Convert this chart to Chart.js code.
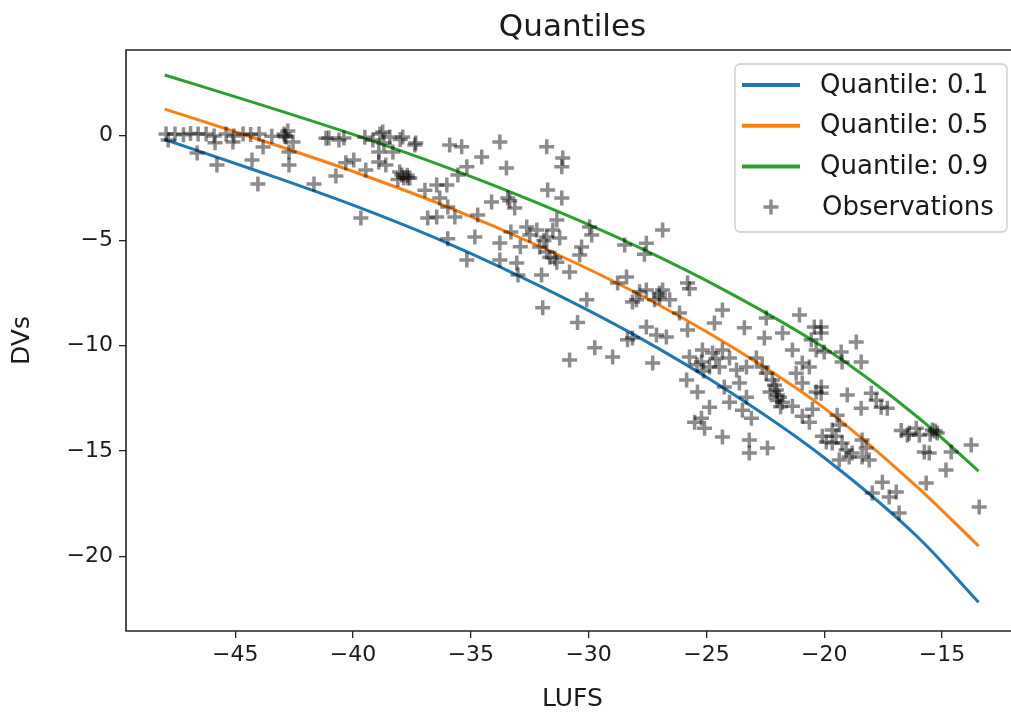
<!DOCTYPE html>
<html>
<head>
<meta charset="utf-8">
<script src="https://cdn.jsdelivr.net/npm/chart.js@4.4.1/dist/chart.umd.min.js"></script>
<style>
  html, body { margin: 0; padding: 0; background: #fff; overflow: hidden; }
  #wrap { width: 1011px; height: 714px; overflow: hidden; }
</style>
</head>
<body>
<div id="wrap"><canvas id="quantChart" width="1030" height="714"></canvas></div>
<script>
// fitted quantile curves, sampled along LUFS
var curveX = [-48, -44, -40, -36, -32, -28, -24, -20, -16, -13.45];
var q10 = [-0.2, -1.72, -3.32, -5.12, -7.2, -9.52, -12.2, -15.32, -19.12, -22.18];
var q50 = [1.24, -0.2, -1.72, -3.4, -5.32, -7.48, -10.0, -12.96, -16.76, -19.51];
var q90 = [2.86, 1.48, 0.04, -1.54, -3.3, -5.26, -7.5, -10.1, -13.42, -15.95];

// observations (LUFS, DVs)
var obsX = [
  -47.94, -47.56, -47.85, -46.58, -46.24, -45.9, -45.86, -46.62, -45.78, -45.39,
  -45.06, -44.67, -45.1, -44.29, -43.99, -43.82, -44.04, -42.93, -42.85, -42.77,
  -42.55, -42.72, -42.72, -41.66, -41.03, -40.39, -40.73, -40.31, -39.97, -39.67,
  -39.46, -39.16, -38.86, -38.74, -38.69, -38.91, -38.31, -38.91, -38.61, -37.93,
  -37.85, -37.68, -37.89, -37.34, -38.02, -38.44, -42.9,
  -47.2, -46.9, -44.35, -43.45, -41.15, -40.6, -39.5, -38.0, -38.1, -37.7,
  -37.38, -37.59, -35.9, -35.39, -34.54, -33.77, -33.49, -35.17, -35.55, -36.02,
  -31.78, -31.1, -31.14, -31.74, -31.14, -36.32, -36.83, -36.45, -35.98, -35.68,
  -34.71, -34.12, -33.43, -33.14, -35.98, -34.83, -33.77, -35.17, -33.77, -33.05,
  -33.0, -32.63, -32.2, -32.5, -31.78, -31.52, -31.35, -32.08, -31.78, -31.65,
  -31.44, -31.35, -31.23, -32.0, -30.81, -30.38, -30.3, -29.96, -29.87, -28.47,
  -28.39, -28.77, -28.14, -30.08, -31.95, -30.47, -28.35, -29.74, -28.98, -30.81,
  -33.35, -36.95, -36.45, -33.3, -32.9, -31.9,
  -26.86, -27.55, -27.63, -25.8, -25.72, -27.55, -26.86, -26.56, -27.2, -26.99,
  -27.97, -27.84, -26.14, -27.55, -27.12, -26.7, -28.14, -24.32, -24.66, -25.8,
  -23.39, -22.46, -21.05, -20.42, -21.77, -22.54, -21.35, -20.55, -20.34, -27.28,
  -25.72, -25.17, -24.74, -24.32, -24.02, -24.45, -24.87, -25.21, -23.72, -23.3,
  -22.88, -22.63, -22.46, -22.2, -22.03, -21.9, -21.77, -21.99, -22.11, -25.84,
  -25.38, -24.87, -25.21, -25.5, -25.08, -24.32, -24.24, -23.6, -23.3, -24.02,
  -23.47, -23.09, -23.18, -23.18, -22.41, -20.93, -20.63, -21.19, -20.93, -20.34,
  -20.12, -21.35, -20.93, -20.5, -20.63, -20.08, -25.12,
  -27.0, -22.0, -21.85, -22.3, -25.4, -24.6,
  -20.13, -20.13, -18.64, -20.0, -19.28, -19.24, -18.43, -20.13, -19.02, -18.0,
  -17.79, -17.58, -17.32, -18.43, -19.45, -16.73, -16.39, -16.09, -15.96, -16.47,
  -15.41, -15.2, -19.91, -19.66, -19.24, -19.07, -18.81, -18.39, -18.22, -19.36,
  -18.94, -18.39, -18.09, -19.66, -19.36, -15.75, -15.54, -14.61, -13.76, -14.83,
  -15.67, -17.53, -17.96, -17.24, -16.94, -16.82, -13.42, -15.29, -19.5, -15.5
];
var obsY = [
  0.06, 0.06, -0.22, 0.06, 0.06, -0.03, -0.36, -0.84, -1.41, 0.06,
  -0.03, 0.06, -0.32, -1.17, 0.06, -0.56, -2.31, 0.06, -0.08, 0.2,
  -0.32, -0.79, -1.41, -2.31, -0.13, -0.13, -1.93, -1.31, -1.17, -3.93,
  -1.65, -0.22, 0.06, 0.16, -0.37, -0.79, -0.79, -1.27, -1.41, -1.89,
  -2.03, -2.03, -0.08, -0.37, -1.74, -0.08, -0.03,
  0.02, 0.08, 0.04, -0.05, -0.14, -0.22, -0.1, -0.2, -2.1, -1.9,
  -0.46, -2.03, -0.46, -0.55, -1.03, -0.32, -1.55, -1.5, -1.89, -2.36,
  -0.55, -1.08, -1.5, -2.6, -2.98, -2.98, -3.93, -3.88, -3.41, -3.88,
  -3.79, -3.17, -2.98, -3.46, -4.92, -4.83, -5.12, -5.92, -5.92, -6.07,
  -6.64, -4.36, -4.5, -4.74, -4.83, -4.5, -4.02, -5.31, -5.55, -5.79,
  -5.84, -6.03, -4.88, -6.64, -6.5, -5.69, -5.31, -4.36, -4.74, -5.21,
  -6.73, -7.02, -7.92, -7.82, -8.2, -8.9, -9.71, -10.1, -10.53, -10.68,
  -3.11, -2.61, -2.36, -4.6, -5.3, -5.0,
  -4.5, -5.13, -5.65, -7.02, -7.29, -7.35, -7.35, -7.82, -7.82, -7.68,
  -7.82, -7.44, -8.44, -9.11, -9.49, -9.58, -9.63, -8.3, -8.92, -9.25,
  -9.15, -8.68, -8.54, -9.11, -9.39, -9.63, -10.2, -9.72, -10.2, -10.82,
  -10.53, -10.2, -10.34, -10.2, -10.58, -11.01, -11.01, -10.77, -11.15, -11.01,
  -10.58, -11.01, -11.3, -11.63, -12.1, -12.44, -12.68, -12.34, -11.87, -11.63,
  -12.2, -12.92, -13.44, -13.63, -13.92, -14.34, -11.96, -11.77, -12.44, -12.68,
  -13.06, -13.44, -14.48, -15.09, -14.86, -10.82, -11.01, -11.3, -11.77, -12.2,
  -11.96, -12.87, -13.35, -13.01, -13.63, -14.3, -11.2,
  -7.5, -12.6, -12.9, -12.2, -10.9, -10.6,
  -9.11, -9.39, -9.82, -10.3, -10.3, -10.77, -10.77, -12.25, -12.34, -12.25,
  -12.59, -12.92, -12.97, -12.97, -13.3, -14.02, -14.16, -13.92, -14.25, -14.24,
  -14.0, -14.14, -14.57, -14.62, -14.62, -14.95, -15.09, -14.48, -14.86, -15.43,
  -15.28, -15.28, -15.43, -14.0, -13.76, -15.05, -15.09, -15.05, -14.71, -15.9,
  -16.52, -16.48, -16.99, -17.18, -16.95, -17.94, -17.66, -14.05, -14.3, -14.2
];

var FONT = 'DejaVu Sans';
var TXT = '#1a1a1a';

function pts(xs, ys) {
  return xs.map(function (x, i) { return { x: x, y: ys[i] }; });
}

function minusLabel(v) {
  return v < 0 ? '\u2212' + Math.abs(v) : String(v);
}

function fives(scale) {
  scale.ticks = scale.ticks.filter(function (t) { return Math.abs(t.value % 5) < 1e-9; });
}

// axes frame: left, bottom and top spines (right one falls past the edge)
var framePlugin = {
  id: 'frame',
  afterDraw: function (chart) {
    var a = chart.chartArea, ctx = chart.ctx;
    ctx.save();
    ctx.strokeStyle = '#222';
    ctx.lineWidth = 1.6;
    ctx.beginPath();
    ctx.moveTo(a.right, a.top);
    ctx.lineTo(a.left, a.top);
    ctx.lineTo(a.left, a.bottom);
    ctx.lineTo(a.right, a.bottom);
    ctx.stroke();
    ctx.restore();
  }
};

// legend box in the upper right corner of the axes
var boxLegend = {
  id: 'boxLegend',
  afterDraw: function (chart) {
    var ctx = chart.ctx;
    var left = 735, top = 64, w = 272, h = 168, r = 5;
    ctx.save();
    ctx.beginPath();
    ctx.moveTo(left + r, top);
    ctx.arcTo(left + w, top, left + w, top + h, r);
    ctx.arcTo(left + w, top + h, left, top + h, r);
    ctx.arcTo(left, top + h, left, top, r);
    ctx.arcTo(left, top, left + w, top, r);
    ctx.closePath();
    ctx.fillStyle = 'rgba(255,255,255,0.8)';
    ctx.fill();
    ctx.strokeStyle = '#cccccc';
    ctx.lineWidth = 1.3;
    ctx.stroke();

    ctx.font = '26px "' + FONT + '"';
    ctx.textBaseline = 'middle';
    chart.data.datasets.forEach(function (ds, i) {
      var y = top + 21 + i * 40.7;
      ctx.strokeStyle = ds.borderColor;
      ctx.beginPath();
      if (ds.type === 'scatter') {
        ctx.lineWidth = ds.borderWidth;
        ctx.moveTo(771 - 7.5, y); ctx.lineTo(771 + 7.5, y);
        ctx.moveTo(771, y - 7.5); ctx.lineTo(771, y + 7.5);
      } else {
        ctx.lineWidth = 4;
        ctx.moveTo(742, y); ctx.lineTo(800, y);
      }
      ctx.stroke();
      ctx.fillStyle = TXT;
      ctx.fillText(ds.label, ds.type === 'scatter' ? 822 : 820, y + 1);
    });
    ctx.restore();
  }
};

function lineSet(label, ys, color) {
  return {
    type: 'line',
    label: label,
    data: pts(curveX, ys),
    borderColor: color,
    borderWidth: 3,
    pointRadius: 0,
    fill: false,
    cubicInterpolationMode: 'monotone',
    order: 1
  };
}

var chart = new Chart(document.getElementById('quantChart'), {
  data: {
    datasets: [
      lineSet('Quantile: 0.1', q10, '#1f77b4'),
      lineSet('Quantile: 0.5', q50, '#ff7f0e'),
      lineSet('Quantile: 0.9', q90, '#2ca02c'),
      {
        type: 'scatter',
        label: 'Observations',
        data: pts(obsX, obsY),
        pointStyle: 'cross',
        pointRadius: 7.5,
        borderWidth: 3.5,
        borderColor: 'rgba(0,0,0,0.45)',
        backgroundColor: 'rgba(0,0,0,0.45)',
        order: 0
      }
    ]
  },
  options: {
    responsive: false,
    animation: false,
    devicePixelRatio: 1,
    layout: { padding: { left: 0, right: 10, top: 0, bottom: 0 } },
    plugins: {
      legend: { display: false },
      tooltip: { enabled: false },
      title: {
        display: true,
        text: 'Quantiles',
        fullSize: false,
        color: TXT,
        font: { family: FONT, size: 31, weight: 'normal', lineHeight: 1.2 },
        padding: { top: 9.4, bottom: 3.4 }
      }
    },
    scales: {
      x: {
        type: 'linear',
        min: -49.64,
        max: -11.73,
        afterFit: function (s) { s.height = 83; },
        afterBuildTicks: fives,
        border: { display: false },
        grid: { drawOnChartArea: false, drawTicks: true, tickLength: 7, color: '#222', lineWidth: 1.3 },
        ticks: {
          stepSize: 5,
          includeBounds: false,
          maxRotation: 0,
          padding: 4,
          color: TXT,
          font: { family: FONT, size: 22 },
          callback: minusLabel
        },
        title: {
          display: true,
          text: 'LUFS',
          color: TXT,
          font: { family: FONT, size: 25, lineHeight: 1.2 },
          padding: { top: 0, bottom: 0 }
        }
      },
      y: {
        type: 'linear',
        min: -23.55,
        max: 4.05,
        afterFit: function (s) { s.width = 126; },
        afterBuildTicks: fives,
        border: { display: false },
        grid: { drawOnChartArea: false, drawTicks: true, tickLength: 7, color: '#222', lineWidth: 1.3 },
        ticks: {
          stepSize: 5,
          includeBounds: false,
          padding: 6,
          color: TXT,
          font: { family: FONT, size: 22 },
          callback: minusLabel
        },
        title: {
          display: true,
          text: 'DVs',
          color: TXT,
          font: { family: FONT, size: 25, lineHeight: 1.2 },
          padding: { top: 7, bottom: 0 }
        }
      }
    }
  },
  plugins: [framePlugin, boxLegend]
});
</script>
</body>
</html>
